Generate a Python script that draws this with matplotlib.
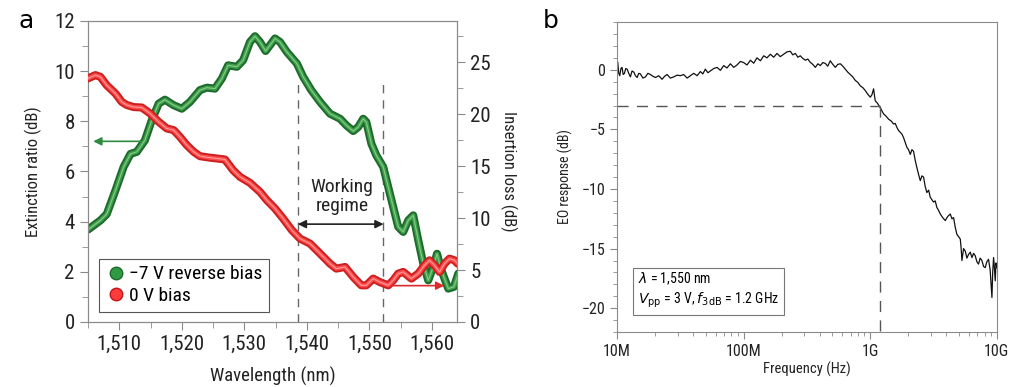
import numpy as np
import matplotlib
matplotlib.use("Agg")
from matplotlib import pyplot as plt
from matplotlib.lines import Line2D
from matplotlib.ticker import MultipleLocator, FuncFormatter, FixedLocator, LogLocator, NullFormatter

plt.rcParams['font.family'] = ['Roboto Condensed', 'Archivo Narrow', 'Liberation Sans', 'DejaVu Sans']

# panel a: extinction ratio at -7 V (left axis)
wl_green = [1505.0, 1507.0, 1508.0, 1509.4, 1510.7, 1511.8, 1512.8, 1514.1, 1515.2, 1516.3,
            1517.3, 1518.7, 1520.0, 1521.3, 1522.9, 1524.0, 1525.3, 1526.4, 1527.4, 1528.8,
            1529.8, 1530.9, 1531.7, 1532.5, 1533.4, 1534.1, 1534.9, 1535.7, 1536.8, 1538.4,
            1539.4, 1540.7, 1542.1, 1543.7, 1545.3, 1546.3, 1547.4, 1548.2, 1549.0, 1549.5,
            1550.3, 1551.1, 1552.2, 1553.0, 1553.8, 1554.6, 1555.4, 1556.2, 1557.0, 1557.8,
            1558.6, 1559.4, 1560.2, 1560.8, 1561.5, 1562.6, 1563.5, 1564.2]
er_green = [3.68, 4.05, 4.30, 5.25, 6.18, 6.70, 6.78, 7.24, 8.04, 8.70,
            8.86, 8.64, 8.50, 8.77, 9.24, 9.34, 9.30, 9.70, 10.23, 10.17,
            10.43, 11.16, 11.39, 11.16, 10.80, 11.03, 11.30, 11.16, 10.76, 10.30,
            9.77, 9.24, 8.77, 8.30, 8.10, 7.84, 7.61, 7.77, 8.10, 7.97,
            7.11, 6.64, 6.18, 5.38, 4.58, 3.79, 3.59, 4.05, 4.25, 3.26,
            2.33, 1.66, 2.19, 2.72, 2.06, 1.33, 1.40, 1.93]

# panel a: insertion loss at 0 V (right axis)
wl_red = [1505.0, 1506.2, 1507.0, 1508.0, 1509.4, 1510.4, 1511.2, 1512.3, 1513.6, 1514.9,
          1516.3, 1517.6, 1518.7, 1519.7, 1520.8, 1521.9, 1522.9, 1524.3, 1525.6, 1526.9,
          1528.2, 1529.3, 1530.9, 1532.5, 1533.6, 1534.9, 1536.2, 1537.6, 1538.9, 1540.5,
          1542.1, 1543.7, 1544.7, 1546.1, 1547.4, 1548.7, 1549.5, 1550.6, 1551.6, 1553.0,
          1553.8, 1554.6, 1555.4, 1556.7, 1557.8, 1558.8, 1559.6, 1560.4, 1561.2, 1562.0,
          1562.8, 1563.6, 1564.1]
il_red = [23.46, 23.78, 23.60, 22.80, 22.00, 21.20, 20.90, 20.70, 20.66, 20.10,
          19.28, 18.64, 18.48, 17.83, 17.03, 16.39, 15.97, 15.84, 15.75, 15.65,
          14.62, 13.98, 13.40, 12.53, 11.73, 10.93, 9.96, 8.84, 8.03, 7.55,
          6.59, 5.62, 5.14, 5.30, 4.34, 3.53, 3.53, 4.18, 3.86, 3.53,
          4.02, 4.66, 4.82, 4.18, 4.66, 5.46, 5.94, 5.46, 4.82, 5.62,
          6.10, 5.94, 5.62]

regime_edges = [1538.5, 1552.1]

# panel b: EO response vs log10(frequency / Hz)
freq_log = [7.005, 7.013, 7.021, 7.030, 7.039, 7.048, 7.058, 7.068, 7.079, 7.092,
            7.105, 7.118, 7.132, 7.145, 7.158, 7.171, 7.184, 7.204, 7.224, 7.243,
            7.263, 7.283, 7.303, 7.329, 7.355, 7.375, 7.395, 7.421, 7.447, 7.474,
            7.500, 7.526, 7.553, 7.579, 7.605, 7.632, 7.658, 7.677, 7.697, 7.717,
            7.737, 7.763, 7.789, 7.816, 7.842, 7.868, 7.895, 7.921, 7.947, 7.974,
            8.000, 8.026, 8.053, 8.079, 8.105, 8.132, 8.158, 8.184, 8.211, 8.237,
            8.263, 8.289, 8.316, 8.342, 8.368, 8.388, 8.408, 8.428, 8.447, 8.467,
            8.487, 8.507, 8.526, 8.546, 8.566, 8.586, 8.605, 8.625, 8.645, 8.664,
            8.684, 8.704, 8.724, 8.743, 8.763, 8.783, 8.803, 8.822, 8.842, 8.862,
            8.882, 8.901, 8.921, 8.941, 8.961, 8.980, 9.000, 9.013, 9.026, 9.039,
            9.056, 9.074, 9.090, 9.105, 9.125, 9.145, 9.165, 9.184, 9.197, 9.211,
            9.224, 9.237, 9.250, 9.263, 9.276, 9.289, 9.302, 9.316, 9.329, 9.342,
            9.355, 9.368, 9.382, 9.395, 9.408, 9.421, 9.434, 9.447, 9.461, 9.474,
            9.487, 9.500, 9.513, 9.526, 9.540, 9.553, 9.572, 9.592, 9.612, 9.632,
            9.645, 9.658, 9.671, 9.684, 9.697, 9.711, 9.718, 9.724, 9.737, 9.750,
            9.763, 9.776, 9.790, 9.803, 9.816, 9.829, 9.842, 9.855, 9.868, 9.882,
            9.895, 9.908, 9.921, 9.934, 9.947, 9.961, 9.967, 9.974, 9.980, 9.987,
            9.993, 10.000]
eo_db = [0.62, -0.3, -0.5, 0.1, 0.2, -0.4, -0.3, 0.1, 0.05, -0.3,
         -0.6, -0.1, -0.2, -0.5, -0.65, -0.3, -0.35, -0.7, -0.6, -0.3,
         -0.4, -0.55, -0.65, -0.5, -0.8, -0.55, -0.4, -0.7, -0.6, -0.45,
         -0.5, -0.4, -0.7, -0.5, -0.3, -0.5, -0.15, -0.35, 0.05, -0.25,
         -0.1, 0.1, 0.2, -0.05, 0.35, 0.15, 0.5, 0.2, 0.4, 0.7,
         0.6, 0.4, 0.8, 0.55, 1.0, 0.75, 1.17, 1.0, 1.3, 1.05,
         1.37, 1.1, 1.3, 1.5, 1.55, 1.25, 1.37, 1.05, 1.17, 0.95,
         0.8, 0.9, 0.62, 0.45, 0.2, 0.5, 0.35, 0.6, 0.53, 0.3,
         0.75, 0.45, 0.2, 0.45, 0.5, 0.3, 0.05, -0.2, -0.4, -0.6,
         -0.9, -1.05, -1.35, -1.5, -1.75, -2.05, -2.3, -2.1, -1.6, -2.6,
         -2.8, -3.1, -3.4, -3.7, -3.9, -4.15, -4.3, -4.55, -4.5, -4.85,
         -5.1, -5.25, -5.4, -5.7, -6.1, -6.5, -6.7, -7.1, -6.7, -6.85,
         -7.6, -8.2, -8.8, -9.3, -8.9, -9.0, -9.8, -10.3, -10.1, -10.7,
         -10.9, -11.1, -11.0, -11.55, -11.8, -12.1, -12.4, -12.65, -12.3, -12.1,
         -12.5, -12.4, -13.2, -13.8, -14.0, -14.2, -15.0, -16.0, -15.0, -15.2,
         -15.8, -15.5, -15.3, -15.75, -15.4, -15.6, -16.1, -16.3, -15.8, -16.0,
         -16.5, -16.6, -16.1, -15.9, -16.8, -19.1, -17.0, -15.75, -16.5, -17.7,
         -16.2, -16.6]
f3db = 1.2e9

spine_col = '#8a8a8a'
text_col = '#222222'

fig = plt.figure(figsize=(10.1, 3.87), dpi=100)

# ---------------- panel a ----------------
ax = fig.add_axes([0.0871, 0.168, 0.3654, 0.778])
ax2 = ax.twinx()

ax.plot(wl_green, er_green, color='#1d6a2c', lw=5.8, solid_capstyle='round', solid_joinstyle='round', zorder=3)
ax.plot(wl_green, er_green, color='#3e9e4c', lw=3.0, solid_capstyle='round', solid_joinstyle='round', zorder=3)
ax.plot(wl_green, er_green, color='#86cc86', lw=0.8, solid_capstyle='round', solid_joinstyle='round', zorder=3)
ax2.plot(wl_red, il_red, color='#cc1f1f', lw=5.8, solid_capstyle='round', solid_joinstyle='round', zorder=3)
ax2.plot(wl_red, il_red, color='#ff4b4b', lw=3.0, solid_capstyle='round', solid_joinstyle='round', zorder=3)
ax2.plot(wl_red, il_red, color='#ff9a9a', lw=0.8, solid_capstyle='round', solid_joinstyle='round', zorder=3)

ax.set_xlim(1505, 1564)
ax.set_ylim(0, 12)
ax2.set_ylim(0, 29)

ax.vlines(regime_edges, 0, 9.5, colors='#666666', linestyles=(0, (6, 5)), lw=1)

ax.annotate('', xy=(1505.4, 7.2), xytext=(1513.9, 7.2),
            arrowprops=dict(arrowstyle='-|>', color='#2e8b3e', lw=1.2, mutation_scale=12))
ax2.annotate('', xy=(1562.4, 3.5), xytext=(1553.2, 3.5),
             arrowprops=dict(arrowstyle='-|>', color='#dd2a2a', lw=1.2, mutation_scale=12))
ax.annotate('', xy=(1538.1, 3.9), xytext=(1552.7, 3.9),
            arrowprops=dict(arrowstyle='<|-|>', color=text_col, lw=1.2, mutation_scale=12))
ax.text(1545.6, 5.0, 'Working\nregime', ha='center', va='center', fontsize=14,
        linespacing=1.1, color=text_col)

ax.xaxis.set_major_locator(MultipleLocator(10))
ax.xaxis.set_minor_locator(MultipleLocator(5))
ax.xaxis.set_major_formatter(FuncFormatter(lambda v, p: '{:,}'.format(int(v))))
ax.yaxis.set_major_locator(MultipleLocator(2))
ax.yaxis.set_minor_locator(MultipleLocator(1))
ax2.yaxis.set_major_locator(MultipleLocator(5))
ax2.yaxis.set_minor_locator(MultipleLocator(2.5))

for a in (ax, ax2):
    for s in a.spines.values():
        s.set_color(spine_col)
    a.tick_params(which='both', direction='out', color=spine_col, labelsize=15, labelcolor=text_col)
    a.tick_params(which='major', length=6)
    a.tick_params(which='minor', length=4)

ax.set_xlabel('Wavelength (nm)', fontsize=13.5, color=text_col, labelpad=9)
ax.set_ylabel('Extinction ratio (dB)', fontsize=12, color=text_col, labelpad=9)
ax2.set_ylabel('Insertion loss (dB)', fontsize=12, color=text_col, rotation=270, labelpad=19)

handles = [Line2D([], [], ls='', marker='o', ms=9, mfc='#2f9a42', mec='#1d6a2c'),
           Line2D([], [], ls='', marker='o', ms=9, mfc='#ff3a3a', mec='#c01818')]
leg = ax2.legend(handles, ['\u22127 V reverse bias', '0 V bias'], loc='lower left',
                 bbox_to_anchor=(0.03, 0.033), borderaxespad=0, fontsize=14, handletextpad=0.2,
                 handlelength=1.0, borderpad=0.35, labelspacing=0.2, fancybox=False,
                 edgecolor='#555555', framealpha=1)
leg.get_frame().set_linewidth(0.8)

fig.text(0.018, 0.945, 'a', fontsize=18, va='center', family='DejaVu Sans')

# ---------------- panel b ----------------
bx = fig.add_axes([0.611, 0.142, 0.376, 0.801])
freq_hz = 10 ** np.array(freq_log)
bx.plot(freq_hz, eo_db, color='#111111', lw=0.9)
bx.set_xscale('log')
bx.set_xlim(1e7, 1e10)
bx.set_ylim(-22, 4)

bx.plot([1e7, f3db], [-3, -3], color='#555555', lw=1, ls=(0, (8, 6)))
bx.plot([f3db, f3db], [-3, -22], color='#555555', lw=1, ls=(0, (8, 6)))

bx.xaxis.set_major_locator(FixedLocator([1e7, 1e8, 1e9, 1e10]))
bx.xaxis.set_major_formatter(FuncFormatter(lambda v, p: {1e7: '10M', 1e8: '100M', 1e9: '1G', 1e10: '10G'}.get(v, '')))
bx.xaxis.set_minor_locator(LogLocator(base=10, subs=np.arange(2, 10)))
bx.xaxis.set_minor_formatter(NullFormatter())
bx.yaxis.set_major_locator(MultipleLocator(5))
bx.yaxis.set_minor_locator(MultipleLocator(1))
for s in bx.spines.values():
    s.set_color(spine_col)
bx.tick_params(which='both', direction='out', color=spine_col, labelsize=11.5, labelcolor=text_col)
bx.tick_params(which='major', length=5)
bx.tick_params(which='minor', length=3)
bx.set_xlabel('Frequency (Hz)', fontsize=10.5, color=text_col, labelpad=2)
bx.set_ylabel('EO response (dB)', fontsize=10, color=text_col, labelpad=6)

bx.text(0.055, 0.07, '$\\lambda$ = 1,550 nm\n$V_{\\rm pp}$ = 3 V, $f_{\\rm 3dB}$ = 1.2 GHz',
        transform=bx.transAxes, fontsize=10, ha='left', va='bottom', linespacing=1.35,
        bbox=dict(boxstyle='square,pad=0.35', fc='white', ec='#777777', lw=0.8))

fig.text(0.537, 0.945, 'b', fontsize=18, va='center', family='DejaVu Sans')

fig.savefig('out.png', dpi=100)
